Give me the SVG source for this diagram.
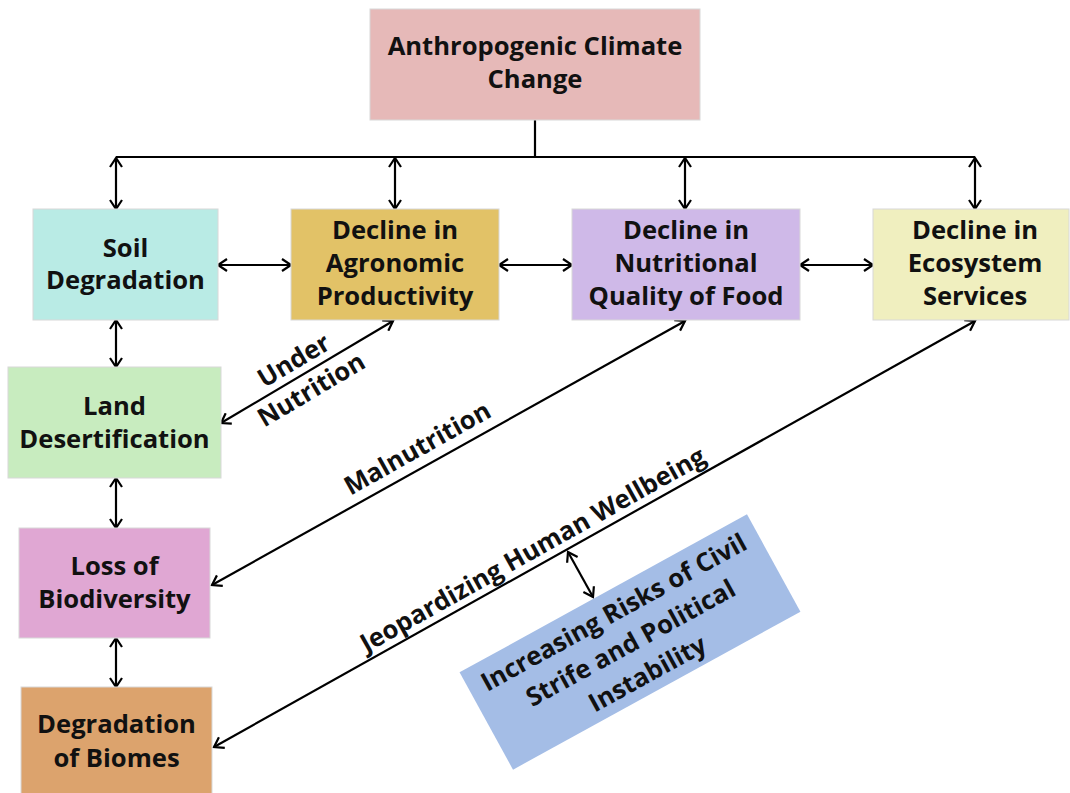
<svg xmlns="http://www.w3.org/2000/svg" width="1070" height="793" viewBox="0 0 1070 793">
<style>
.box{stroke:#d8d8d8;stroke-width:1}
.t{font-family:"Open Sans","Liberation Sans",sans-serif;font-weight:700;font-size:25.6px;fill:#111;text-anchor:middle}
.c{fill:none;stroke:#000;stroke-width:2.2}
.a{marker-start:url(#ah);marker-end:url(#ah)}
</style>
<defs>
<marker id="ah" markerUnits="userSpaceOnUse" viewBox="0 0 12 14" markerWidth="12" markerHeight="14" refX="10" refY="7" orient="auto-start-reverse">
<path d="M1,1 L10,7 L1,13" fill="none" stroke="#000" stroke-width="2.2"/>
</marker>
</defs>
<rect width="1070" height="793" fill="#fff"/>
<g id="connectors">
<path class="c" d="M535,120 V157 M116,157 H975"/>
<line class="c a" x1="116" y1="158" x2="116" y2="209"/>
<line class="c a" x1="395" y1="158" x2="395" y2="209"/>
<line class="c a" x1="685" y1="158" x2="685" y2="209"/>
<line class="c a" x1="975" y1="158" x2="975" y2="209"/>
<line class="c a" x1="218" y1="265" x2="291" y2="265"/>
<line class="c a" x1="499" y1="265" x2="572" y2="265"/>
<line class="c a" x1="800" y1="265" x2="873" y2="265"/>
<line class="c a" x1="116" y1="320" x2="116" y2="367"/>
<line class="c a" x1="116" y1="478" x2="116" y2="528"/>
<line class="c a" x1="116" y1="638" x2="116" y2="687"/>
<line class="c a" x1="393" y1="321" x2="221" y2="423"/>
<line class="c a" x1="685" y1="321" x2="212" y2="585"/>
<line class="c a" x1="975" y1="321" x2="214" y2="747"/>
<line class="c a" x1="568" y1="552" x2="593" y2="597"/>
</g>
<g id="labels">
<g transform="translate(307,371) rotate(-30.7)">
<text class="t" x="-6" y="-7">Under</text>
<text class="t" x="-6" y="27">Nutrition</text>
</g>
<text class="t" transform="translate(427,465.5) rotate(-29.2)" x="0" y="-11">Malnutrition</text>
<text class="t" transform="translate(541,564.3) rotate(-29.3)" x="0" y="-8">Jeopardizing Human Wellbeing</text>
</g>
<g id="climate">
<rect class="box" x="370" y="9" width="330" height="111" fill="#e6b9b8"/>
<text class="t" x="535" y="55">Anthropogenic Climate</text>
<text class="t" x="535" y="88">Change</text>
</g>
<g id="soil">
<rect class="box" x="33" y="209" width="185" height="111" fill="#b9ebe5"/>
<text class="t" x="125.5" y="257">Soil</text>
<text class="t" x="125.5" y="289">Degradation</text>
</g>
<g id="agronomic">
<rect class="box" x="291" y="209" width="208" height="111" fill="#e2c267"/>
<text class="t" x="395" y="239">Decline in</text>
<text class="t" x="395" y="272">Agronomic</text>
<text class="t" x="395" y="305">Productivity</text>
</g>
<g id="nutritional">
<rect class="box" x="572" y="209" width="228" height="111" fill="#cfb9e8"/>
<text class="t" x="686" y="239">Decline in</text>
<text class="t" x="686" y="272">Nutritional</text>
<text class="t" x="686" y="305">Quality of Food</text>
</g>
<g id="ecosystem">
<rect class="box" x="873" y="209" width="196" height="111" fill="#f0efbf"/>
<text class="t" x="975" y="239">Decline in</text>
<text class="t" x="975" y="272">Ecosystem</text>
<text class="t" x="975" y="305">Services</text>
</g>
<g id="land">
<rect class="box" x="8" y="367" width="213" height="111" fill="#c8ecbf"/>
<text class="t" x="114.5" y="415">Land</text>
<text class="t" x="114.5" y="448">Desertification</text>
</g>
<g id="biodiversity">
<rect class="box" x="19" y="528" width="191" height="110" fill="#e0a7d3"/>
<text class="t" x="114.5" y="575">Loss of</text>
<text class="t" x="114.5" y="608">Biodiversity</text>
</g>
<g id="biomes">
<rect class="box" x="21" y="687" width="191" height="110" fill="#dca36d"/>
<text class="t" x="116.5" y="733">Degradation</text>
<text class="t" x="116.5" y="767">of Biomes</text>
</g>
<g id="civil" transform="translate(630,642) rotate(-28.8)">
<rect x="-164" y="-55.5" width="328" height="111" fill="#a4bde6"/>
<text class="t" x="0" y="-25">Increasing Risks of Civil</text>
<text class="t" x="0" y="10">Strife and Political</text>
<text class="t" x="0" y="45">Instability</text>
</g>
</svg>
